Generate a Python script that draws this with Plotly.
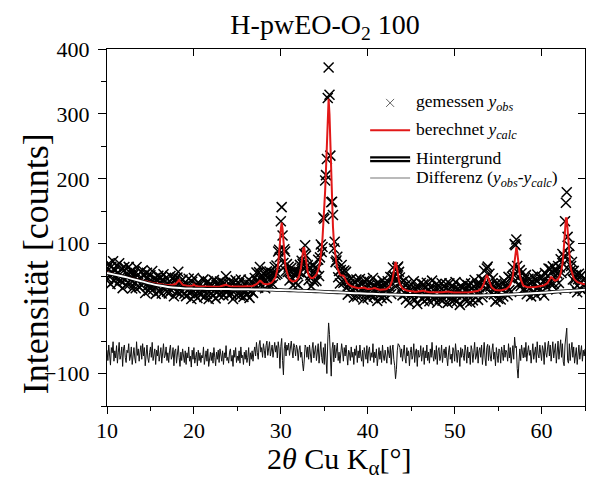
import numpy as np
import plotly.graph_objects as go

# Scan grid: 2θ from 10° to 65° in 0.1° steps
two_theta = np.round(np.arange(10.0, 65.0001, 0.1), 1)

# Calculated (Rietveld) profile, counts, one row per degree (x.0 ... x.9)
y_calc = [
    56, 55.7, 55.4, 55.1, 54.8, 54.5, 54.2, 53.9, 53.6, 53.3,
    53, 52.7, 52.4, 52.1, 51.8, 51.5, 51.2, 50.9, 50.6, 50.3,
    50, 49.7, 49.3, 49, 48.6, 48.3, 47.9, 47.6, 47.2, 46.9,
    46.6, 46.2, 45.9, 45.5, 45.2, 44.8, 44.5, 44.1, 43.8, 43.4,
    43.5, 43.2, 42.8, 42.5, 42.1, 41.8, 41.4, 41.1, 40.7, 40.4,
    40.5, 40.2, 39.9, 39.6, 39.3, 39, 38.7, 38.4, 38.1, 37.8,
    38, 37.8, 37.6, 37.4, 37.2, 37, 36.8, 36.6, 36.4, 36.2,
    36.5, 36.5, 36.4, 36.4, 36.5, 36.6, 36.8, 37, 37.4, 38.2,
    40, 42, 43.9, 43.8, 41.8, 39.6, 38, 37, 36.5, 36,
    35.6, 35.3, 35.1, 35, 34.9, 34.8, 34.7, 34.7, 35.3, 35.9,
    37.2, 35.8, 35.1, 34.7, 34.5, 34.4, 34.3, 34.3, 34.2, 34.2,
    34.1, 34.1, 34.1, 34, 34, 34, 34, 33.9, 33.9, 33.9,
    33.9, 33.9, 33.9, 33.9, 33.8, 33.8, 33.8, 33.8, 33.8, 33.8,
    33.8, 34.5, 35, 35.5, 36.2, 36.9, 37.3, 36.9, 36.2, 35.5,
    35, 34.6, 34.3, 34.1, 34, 33.9, 33.9, 33.9, 33.9, 34,
    34, 34, 34, 34, 34, 34, 34, 34.1, 34.1, 34.2,
    34.3, 34.4, 34.4, 34.5, 34.6, 34.7, 34.8, 35, 35.3, 35.7,
    36.3, 36.9, 37.6, 38.8, 40.4, 42.2, 43, 42.3, 40.7, 39.3,
    38.4, 37.8, 37.4, 37.2, 37.4, 37.6, 37.9, 38.2, 38.8, 39.5,
    40.8, 42.1, 43.7, 46, 49, 53.4, 59.8, 69, 82.8, 101.5,
    122.5, 132.4, 122.6, 102.3, 83.5, 70, 60.9, 54.6, 50.4, 47.5,
    45.3, 43.8, 42.8, 42.2, 41.9, 41.9, 42.2, 42.5, 43.6, 44.9,
    46.9, 50, 54.4, 61.2, 70.8, 83.1, 93.2, 93.4, 83.6, 71.7,
    62.4, 56, 51.9, 49.5, 48, 47.3, 46.9, 47.3, 48, 49.2,
    50.6, 52.8, 55.7, 59.3, 64.3, 71, 79.7, 92.3, 109.1, 130.5,
    154.6, 181.4, 215.7, 260.4, 304.6, 323.4, 299.5, 249.7, 198, 156.8,
    126.4, 104.6, 89, 77.7, 69.1, 63, 58.3, 54.9, 52.7, 51.4,
    51.1, 51.4, 50.9, 48.7, 45.4, 42.6, 40.3, 38.6, 37.3, 36.2,
    35.3, 34.6, 34, 33.5, 33.1, 32.7, 32.3, 32, 31.7, 31.4,
    31.6, 31.75, 31.95, 32.4, 32.85, 33, 32.55, 31.8, 31.05, 30.5,
    30.4, 30.2, 30.2, 30.2, 30.3, 30.65, 31.1, 31.65, 31.9, 31.6,
    30.6, 30, 29.6, 29.35, 29.2, 29.1, 29.1, 29.2, 29.25, 29.45,
    29.45, 29.9, 30.4, 31.2, 32.2, 33.6, 35.7, 38.6, 42.9, 49.3,
    58, 67.6, 72.1, 67.5, 57.8, 49, 42.6, 38.1, 35, 32.9,
    31.4, 30.3, 29.4, 28.8, 28.3, 27.85, 27.5, 27.2, 27, 26.8,
    26.5, 26.3, 26.2, 26.1, 26.05, 26, 26, 26, 26.1, 26.2,
    26.3, 26.6, 27, 27.5, 27.7, 27.4, 26.9, 26.4, 26, 25.7,
    25.5, 25.4, 25.3, 25.2, 25.15, 25.1, 25.05, 25, 25, 24.95,
    24.95, 24.97, 25, 25.04, 25.1, 25.2, 25.36, 25.6, 25.9, 26.4,
    26.9, 27.1, 26.9, 26.35, 25.9, 25.5, 25.3, 25.1, 25, 24.9,
    24.85, 24.8, 24.8, 24.8, 24.8, 24.8, 24.8, 24.85, 24.85, 24.9,
    24.9, 24.95, 25, 25.05, 25.1, 25.15, 25.2, 25.3, 25.4, 25.5,
    25.6, 25.75, 25.9, 26.1, 26.35, 26.65, 27, 27.5, 28.1, 28.9,
    29.95, 31.4, 33.5, 36.3, 40.3, 45.15, 49.7, 51.8, 49.7, 45.3,
    40.8, 37, 34.25, 32.3, 30.9, 30, 29.3, 28.8, 28.5, 28.3,
    28.1, 28.05, 28.05, 28.1, 28.25, 28.45, 28.7, 29.05, 29.5, 30,
    30.7, 31.6, 32.9, 34.5, 36.7, 39.8, 44.25, 50.8, 60.3, 73.4,
    87.65, 94.5, 87.8, 73.7, 60.7, 51.3, 44.9, 40.5, 37.5, 35.5,
    35.1, 34.2, 33.65, 33.3, 33, 32.9, 32.8, 32.8, 32.9, 33,
    33.1, 33.2, 33.3, 33.4, 33.55, 33.7, 33.9, 34.15, 34.4, 34.75,
    35, 35.3, 35.7, 36.15, 36.7, 37.4, 38.45, 39.8, 41.8, 44.4,
    47.2, 48.8, 48.1, 46.1, 44.4, 43.4, 43.2, 43.5, 44.3, 45.6,
    47.5, 50.3, 54, 59.9, 68.2, 80.6, 98.2, 120.7, 139.2, 139.2,
    120.6, 98.1, 80.5, 68.1, 59.8, 53.9, 50, 47.2, 45, 43.4,
    42.1, 41.2, 40.4, 39.8, 39.3, 38.9, 38.6, 38.3, 38.1, 37.9,
    37.7,
]

# Difference y_obs - y_calc, counts, same grid
y_diff = [
    6, -10, 14, -3, -17, 10, 2, 19, -11, 5,
    -6, 13, -14, 3, 18, -8, -2, 11, -19, 8,
    14, -5, -13, 6, 2, 16, -10, -3, 11, -16,
    5, 10, -6, -14, 19, -2, 8, -11, 3, 13,
    -8, 16, -3, 10, -18, 5, 14, -6, -13, 2,
    11, -5, 18, -10, 0, 8, -16, 6, -3, 13,
    -11, 3, 10, -14, 5, 16, -6, -2, 11, -10,
    2, -13, 6, 14, -8, -3, 10, -18, 5, 8,
    -14, 6, 13, -5, -19, 3, -10, 8, -2, -13,
    5, -16, 2, -6, 11, -11, -3, -20, 6, -8,
    10, -14, -5, 3, -18, 6, -10, 2, -13, -2,
    -6, 11, -16, -3, 5, -11, 8, -19, -2, 3,
    -10, 2, -14, 10, -5, -18, 3, -8, 6, -13,
    8, -3, -11, 5, -16, 2, -6, 13, -10, -5,
    -14, 3, 8, -11, -2, -19, 6, -5, 10, -13,
    -3, -10, 5, -14, 11, -6, -2, -16, 3, -8,
    6, -13, -5, 10, -18, 2, -8, 5, -11, 3,
    11, -3, 18, 2, -8, 14, 21, 3, 10, -5,
    16, 6, -6, 13, 20, -2, 10, 19, -3, 8,
    14, -5, 11, 18, 3, 13, -6, 19, 8, -22,
    12, 24, -10, -32, 8, 18, -3, 14, 6, 17,
    -2, 13, 20, 5, -6, 16, 10, -3, 14, 8,
    -10, 6, 13, -5, 3, -14, -26, -9, 14, 10,
    -5, 11, -8, 14, 3, -13, 8, 18, -6, 5,
    13, -10, 6, 16, -14, 8, 19, -5, -14, 10,
    -16, 16, -10, -30, 20, 48, 30, -14, -34, 8,
    18, -12, 14, -6, 5, 17, -10, 3, -14, 8,
    16, 5, -11, 10, -3, 14, -8, -17, 6, 2,
    -10, 11, -5, 3, -16, 8, -2, 13, -13, 5,
    -6, 14, -3, -11, 6, -19, 10, 0, -8, 13,
    -14, 5, 11, -10, 2, -5, 16, -13, 3, -6,
    8, -18, 2, 10, -8, 5, -13, 14, -3, -10,
    6, -2, -14, 11, 3, -6, 13, -16, 5, 14,
    -8, -18, -38, -24, 5, 16, 14, 10, -5, 8,
    -11, 3, 14, -6, -14, 10, -3, 5, -18, 2,
    11, -8, -2, 16, -13, 3, 8, -19, 6, -5,
    -3, 13, -11, 2, 10, -16, 5, -6, 14, -10,
    3, -14, 8, -5, 18, -2, -11, 6, -8, 13,
    -16, 5, 10, -10, -3, 14, -13, 2, 8, -6,
    11, -5, -18, 3, 13, -8, 0, -14, 10, 5,
    -11, 16, -3, -13, 6, 2, -19, 10, -5, 8,
    -2, -10, 14, 5, -14, 11, -6, 3, -16, 13,
    6, -13, 2, 18, -8, -3, 11, -14, 5, 10,
    -5, 14, -16, 8, 18, -6, -18, 10, 15, -10,
    13, -3, -11, 6, 16, -8, 3, -18, 10, -2,
    -13, 8, 5, -14, 11, 2, -10, 14, -5, 6,
    3, -11, 16, -6, 10, -14, 5, 13, -8, 26,
    10, 12, -22, -37, -12, 8, -10, 14, 3, -6,
    10, -5, 18, -11, 3, 13, -2, 6, -14, 8,
    16, -8, 5, 11, -13, 19, 0, -6, 14, 3,
    -10, 13, 6, -16, 18, 2, -5, 11, 20, -3,
    14, -11, 8, 19, -6, 5, 16, -14, 10, 20,
    -8, 13, 22, -5, 16, -12, -18, 14, 24, 40,
    -10, -14, 16, -10, 6, 18, -5, 11, -14, 3,
    10, -16, 5, 14, -8, 2, 13, -11, 6, -3,
    8,
]

# Refined background, counts, at whole degrees
bg_two_theta = list(range(10, 66))
y_background = [
    55, 52, 49, 45.5, 42, 38.5, 35.5, 33.5, 32, 31.2,
    30.8, 30.5, 30.3, 30.2, 30.1, 30, 29.8, 29.6, 29.3, 29,
    28.6, 28.2, 27.7, 27.2, 26.6, 26, 25.4, 24.8, 24.2, 23.6,
    23.1, 22.6, 22.1, 21.7, 21.3, 21, 20.7, 20.5, 20.3, 20.2,
    20.1, 20.1, 20.2, 20.4, 20.7, 21.1, 21.6, 22.2, 22.9, 23.7,
    24.5, 25.4, 26.3, 27.2, 28.1, 29,
]

DIFF_OFFSET = -70  # the difference curve is shifted below the pattern

assert len(y_calc) == len(two_theta) == len(y_diff)
assert len(y_background) == len(bg_two_theta)

calc = np.array(y_calc, dtype=float)
diff = np.array(y_diff, dtype=float)
obs = calc + diff

SERIF = "Liberation Serif, Times New Roman, serif"
RED = "rgb(226,24,24)"

fig = go.Figure()

fig.add_trace(go.Scatter(
    x=two_theta, y=obs, mode="markers", showlegend=False,
    marker=dict(symbol="x-thin", size=10, color="black",
                line=dict(color="black", width=1.5)),
))
fig.add_trace(go.Scatter(
    x=two_theta, y=diff + DIFF_OFFSET, mode="lines", showlegend=False,
    line=dict(color="#111111", width=1),
))
fig.add_trace(go.Scatter(
    x=two_theta, y=calc, mode="lines", showlegend=False,
    line=dict(color=RED, width=2),
))
# background: thin black outline with a white core
fig.add_trace(go.Scatter(
    x=bg_two_theta, y=y_background, mode="lines", showlegend=False,
    line=dict(color="black", width=3.6, shape="spline"),
))
fig.add_trace(go.Scatter(
    x=bg_two_theta, y=y_background, mode="lines", showlegend=False,
    line=dict(color="white", width=2, shape="spline"),
))
# carrier for the mirrored top/right axes
fig.add_trace(go.Scatter(x=[None], y=[None], xaxis="x2", yaxis="y2",
                         showlegend=False, hoverinfo="skip"))

axis_common = dict(
    showgrid=False, zeroline=False, showline=True,
    linecolor="black", linewidth=1.3,
    tickcolor="black", tickwidth=1.2,
    tickfont=dict(family=SERIF, size=22, color="black"),
)

fig.update_layout(
    width=590, height=483,
    margin=dict(l=107, r=5, t=49, b=77, pad=0),
    paper_bgcolor="white", plot_bgcolor="white",
    showlegend=False,
    title=dict(text="H-pwEO-O<sub>2</sub> 100", x=0.551, xref="container",
               xanchor="center", y=0.95, yref="container", yanchor="middle",
               font=dict(family=SERIF, size=28, color="black")),
    xaxis=dict(range=[10, 65], tickmode="linear", tick0=10, dtick=10,
               ticks="outside", ticklen=7, ticklabelstandoff=-3,
               minor=dict(dtick=5, ticks="outside", ticklen=4,
                          tickcolor="black", tickwidth=1.2, showgrid=False),
               **axis_common),
    yaxis=dict(range=[-150, 400], tickmode="linear", tick0=0, dtick=100,
               ticks="outside", ticklen=8, ticklabelstandoff=4,
               minor=dict(dtick=50, ticks="outside", ticklen=5,
                          tickcolor="black", tickwidth=1.2, showgrid=False),
               **axis_common),
    xaxis2=dict(range=[10, 65], overlaying="x", matches="x", side="top",
                anchor="y", tickmode="linear", tick0=10, dtick=10,
                ticks="inside", ticklen=7, showticklabels=False,
                **axis_common),
    yaxis2=dict(range=[-150, 400], overlaying="y", matches="y", side="right",
                anchor="x", tickmode="linear", tick0=0, dtick=100,
                ticks="inside", ticklen=7, showticklabels=False,
                **axis_common),
)

# axis titles
fig.add_annotation(text="2<i>θ</i> Cu K<sub>α</sub>[°]", xref="paper", yref="paper",
                   x=0.4857, y=0, xanchor="center", yanchor="top", yshift=-35,
                   showarrow=False, borderpad=0,
                   font=dict(family=SERIF, size=30, color="black"))
fig.add_annotation(text="Intensität [counts]", xref="paper", yref="paper",
                   x=-0.148, y=0.398, xanchor="center", yanchor="middle",
                   textangle=-90, showarrow=False,
                   font=dict(family=SERIF, size=36, color="black"))

# legend drawn inside the frame
LEG_X0, LEG_X1, LEG_TXT = 0.5505, 0.6341, 0.6446
rows = [0.849, 0.7722, 0.6914, 0.6387]
row_shift = [0, 0, 1, -1]
labels = [
    "gemessen <i>y<sub>obs</sub></i>",
    "berechnet <i>y<sub>calc</sub></i>",
    "Hintergrund",
    "Differenz (<i>y<sub>obs</sub></i>-<i>y<sub>calc</sub></i>)",
]
for ry, dy, lab in zip(rows, row_shift, labels):
    fig.add_annotation(text=lab, xref="paper", yref="paper", x=LEG_TXT, y=ry,
                       xanchor="left", yanchor="middle", yshift=dy,
                       showarrow=False, borderpad=0,
                       font=dict(family=SERIF, size=17.5, color="black"))

xc = (LEG_X0 + LEG_X1) / 2
for dx0, dy0, dx1, dy1 in [(-4, -4, 4, 4), (-4, 4, 4, -4)]:
    fig.add_shape(type="line", xref="paper", yref="paper",
                  xsizemode="pixel", ysizemode="pixel",
                  xanchor=xc, yanchor=rows[0], x0=dx0, y0=dy0, x1=dx1, y1=dy1,
                  line=dict(color="#666666", width=1))
fig.add_shape(type="line", xref="paper", yref="paper", x0=LEG_X0, x1=LEG_X1,
              y0=rows[1], y1=rows[1], line=dict(color=RED, width=2))
fig.add_shape(type="line", xref="paper", yref="paper", x0=LEG_X0, x1=LEG_X1,
              y0=rows[2], y1=rows[2], line=dict(color="black", width=6))
fig.add_shape(type="line", xref="paper", yref="paper", x0=LEG_X0, x1=LEG_X1,
              y0=rows[2], y1=rows[2], line=dict(color="white", width=1.5))
fig.add_shape(type="line", xref="paper", yref="paper", x0=LEG_X0, x1=LEG_X1,
              y0=rows[3], y1=rows[3], line=dict(color="#777777", width=1.2))

fig.write_html("out.html")
